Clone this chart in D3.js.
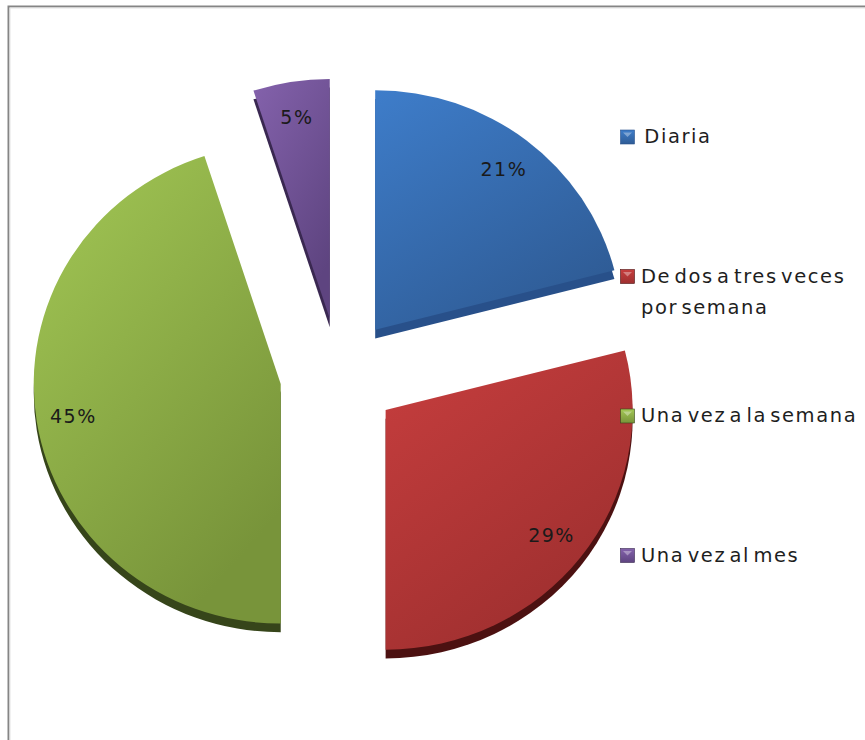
<!DOCTYPE html>
<html><head><meta charset="utf-8">
<script src="https://cdn.jsdelivr.net/npm/d3@7"></script>
<style>html,body{margin:0;padding:0;background:#fff;}svg{display:block;}</style>
</head><body>
<svg id="chart" width="865" height="740"></svg>
<script>
const categories = ["Diaria", "De dos a tres veces por semana", "Una vez a la semana", "Una vez al mes"];
const legendLines = [[" Diaria"], ["De dos a tres veces", "por semana"], ["Una vez a la semana"], ["Una vez al mes"]];
const values = [21, 29, 45, 5];
const pctLabels = ["21%", "29%", "45%", "5%"];

const faceTop = ["#3E7DCA", "#C73E3E", "#A3C855", "#8462AC"];
const faceBot = ["#2F5C96", "#9E2F2F", "#78943A", "#5E4480"];
const sideCol = ["#28508A", "#4C1111", "#36451A", "#3A2851"];

const svg = d3.select("#chart");
const W = 865, H = 740;

// frame
svg.append("rect").attr("x", 0).attr("y", 0).attr("width", W).attr("height", H).attr("fill", "#fff");
svg.append("rect").attr("x", 8.5).attr("y", 6.5).attr("width", 900).attr("height", 800)
  .attr("fill", "none").attr("stroke", "#858585").attr("stroke-width", 2);
svg.append("rect").attr("x", 10).attr("y", 8).attr("width", 900).attr("height", 800)
  .attr("fill", "none").attr("stroke", "#e4e4e4").attr("stroke-width", 1);

const defs = svg.append("defs");
faceTop.forEach((c, i) => {
  const g = defs.append("linearGradient").attr("id", "g" + i)
    .attr("x1", 0).attr("y1", 0).attr("x2", 0.6).attr("y2", 1);
  g.append("stop").attr("offset", "0%").attr("stop-color", c);
  g.append("stop").attr("offset", "100%").attr("stop-color", faceBot[i]);
});

const cx = 339, cy = 375, R = 247, explode = 59, sy = 0.97, depth = 9;
const pie = d3.pie().sort(null).value(d => d).startAngle(0).endAngle(2 * Math.PI);
const arcs = pie(values);
const arc = d3.arc().innerRadius(0).outerRadius(R);

const pieG = svg.append("g")
  .attr("transform", `translate(${cx},${cy}) scale(1,${sy})`);

arcs.forEach((a, i) => {
  const mid = (a.startAngle + a.endAngle) / 2;
  const ox = explode * Math.sin(mid), oy = -explode * Math.cos(mid);
  const sg = pieG.append("g").attr("transform", `translate(${ox},${oy})`);
  sg.append("path").attr("d", arc(a)).attr("fill", sideCol[i])
    .attr("transform", `translate(0,${depth})`);
  sg.append("path").attr("d", arc(a)).attr("fill", `url(#g${i})`);
});

// percentage labels
arcs.forEach((a, i) => {
  const mid = (a.startAngle + a.endAngle) / 2;
  const rr = explode + R * 0.85;
  const x = cx + rr * Math.sin(mid);
  const y = cy + (-rr * Math.cos(mid)) * sy;
  svg.append("text").attr("x", x).attr("y", y)
    .attr("text-anchor", "middle").attr("dominant-baseline", "central")
    .attr("font-family", "DejaVu Sans, Verdana, sans-serif").attr("font-size", 19)
    .attr("letter-spacing", 1.5)
    .attr("fill", "#1a1a1a").text(pctLabels[i]);
});

// legend
const legY = d3.scaleLinear().domain([0, categories.length - 1]).range([130, 548.5]);
const leg = svg.append("g");
categories.forEach((c, i) => {
  const y0 = legY(i);
  const lg = defs.append("linearGradient").attr("id", "lg" + i)
    .attr("x1", 0).attr("y1", 0).attr("x2", 0).attr("y2", 1);
  lg.append("stop").attr("offset", "0%").attr("stop-color", faceTop[i]);
  lg.append("stop").attr("offset", "100%").attr("stop-color", faceBot[i]);
  leg.append("rect").attr("x", 620.5).attr("y", y0).attr("width", 14).attr("height", 14)
    .attr("fill", `url(#lg${i})`).attr("stroke", sideCol[i]).attr("stroke-width", 0.6);
  leg.append("path").attr("d", `M${623},${y0 + 2.5} L${632},${y0 + 2.5} L${627.5},${y0 + 7} Z`)
    .attr("fill", "#fff").attr("opacity", 0.35);
  const t = leg.append("text").attr("font-family", "DejaVu Sans, Verdana, sans-serif")
    .attr("font-size", 19.5).attr("fill", "#1e1e1e").attr("word-spacing", -4.5)
    .attr("letter-spacing", 1.6)
    .style("white-space", "pre");
  legendLines[i].forEach((ln, k) => {
    t.append("tspan").attr("x", 641).attr("y", y0 + 13 + k * 31).text(ln);
  });
});
</script>
</body></html>
